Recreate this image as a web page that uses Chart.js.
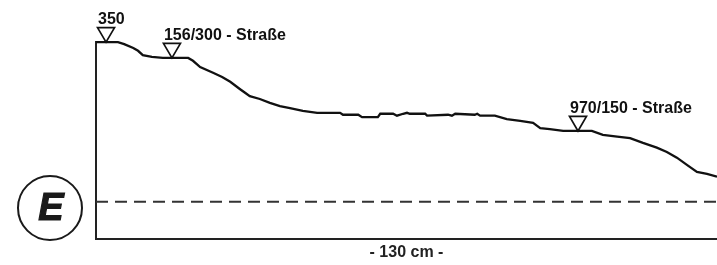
<!DOCTYPE html>
<html>
<head>
<meta charset="utf-8">
<script src="https://cdn.jsdelivr.net/npm/chart.js@4"></script>
<style>
	body { margin: 0; background: #fff; }
</style>
</head>
<body>
<canvas id="profielChart" width="717" height="265"></canvas>
<script>
// data van het profiel (x = afstand in cm, y = hoogte in cm)
const afstand = [0, 4.6, 5.9, 7.8, 8.8, 9.8, 11.7, 14.0, 19.3, 20.3, 21.8, 24.5, 26.4, 28.1, 30.1, 31.2, 32.2, 34.3, 36.4, 38.5, 40.6, 43.3, 46.3, 51.1, 51.7, 54.9, 55.7, 59.0, 59.5, 62.2, 63.0, 64.3, 65.1, 65.7, 68.9, 69.3, 73.7, 74.5, 75.2, 79.3, 79.8, 80.4, 83.5, 86.0, 88.8, 91.5, 93.0, 95.0, 97.8, 100.7, 103.8, 106.1, 109.1, 111.8, 114.5, 117.4, 119.5, 121.6, 123.7, 125.8, 127.9, 130];
const hoogte = [41.2, 41.2, 40.8, 40.0, 39.4, 38.5, 38.1, 37.9, 37.9, 37.3, 36.0, 34.8, 33.9, 32.9, 31.4, 30.6, 29.9, 29.3, 28.5, 27.8, 27.4, 26.8, 26.4, 26.4, 26.0, 26.0, 25.5, 25.5, 26.2, 26.2, 25.8, 26.2, 26.4, 26.2, 26.2, 25.8, 26.0, 25.8, 26.2, 26.0, 26.2, 25.8, 25.8, 25.1, 24.7, 24.3, 23.2, 23.0, 22.6, 22.6, 22.6, 21.8, 21.4, 21.1, 20.1, 19.1, 18.2, 17.0, 15.5, 14.0, 13.6, 13.0];

// gestreepte lijn (waterpeil)
const peilX = [0, 130];
const peilY = [7.75, 7.75];

// markeringen met driehoek en tekst
const markX = [2.1, 15.9, 100.9];
const markY = [41.2, 37.9, 22.6];
const markLabels = ['350', '156/300 - Straße', '970/150 - Straße'];

const asTitel = '- 130 cm -';
const letter = 'E';

// plugin: driehoekjes + labels op de lijn
const markeringen = {
	id: 'markeringen',
	afterDatasetsDraw(chart) {
		const ctx = chart.ctx;
		const sx = chart.scales.x;
		const sy = chart.scales.y;
		ctx.save();
		for (let i = 0; i < markX.length; i++) {
			const px = sx.getPixelForValue(markX[i]);
			const py = sy.getPixelForValue(markY[i]);
			ctx.beginPath();
			ctx.moveTo(px, py);
			ctx.lineTo(px - 8.5, py - 14.5);
			ctx.lineTo(px + 8.5, py - 14.5);
			ctx.closePath();
			ctx.fillStyle = '#fff';
			ctx.fill();
			ctx.lineWidth = 1.7;
			ctx.strokeStyle = '#111';
			ctx.stroke();
			ctx.fillStyle = '#111';
			ctx.font = 'bold 16px "Liberation Sans", Arial, sans-serif';
			ctx.textAlign = 'left';
			ctx.textBaseline = 'alphabetic';
			ctx.fillText(markLabels[i], px - 8, py - 18);
		}
		ctx.restore();
	}
};

// plugin: omcirkelde letter links
const cirkelLetter = {
	id: 'cirkelLetter',
	afterDraw(chart) {
		const ctx = chart.ctx;
		ctx.save();
		ctx.beginPath();
		ctx.arc(50, 208, 32, 0, Math.PI * 2);
		ctx.lineWidth = 2;
		ctx.strokeStyle = '#1a1a1a';
		ctx.stroke();
		ctx.fillStyle = '#1a1a1a';
		ctx.font = 'italic bold 38px "Liberation Sans", Arial, sans-serif';
		ctx.textAlign = 'center';
		ctx.textBaseline = 'middle';
		ctx.fillText(letter, 51, 210);
		ctx.lineWidth = 1.2;
		ctx.strokeText(letter, 51, 210); // iets dikker, zoals het origineel
		ctx.restore();
	}
};

const profielCanvas = document.getElementById('profielChart');
const configProfiel = {
	type: 'line',
	data: {
		datasets: [{
			label: 'Profiel',
			data: afstand.map((x, i) => ({x: x, y: hoogte[i]})),
			borderColor: '#111',
			borderWidth: 2.3,
			pointRadius: 0,
			tension: 0,
			clip: false
		}, {
			label: 'Peil',
			data: peilX.map((x, i) => ({x: x, y: peilY[i]})),
			borderColor: '#333',
			borderWidth: 2,
			borderDash: [12, 7],
			pointRadius: 0,
			clip: false
		}]
	},
	options: {
		responsive: false,
		animation: false,
		layout: {
			padding: {left: 96, top: 42, right: 0, bottom: 0}
		},
		plugins: {
			legend: { display: false },
			tooltip: { enabled: false }
		},
		scales: {
			x: {
				type: 'linear',
				min: 0,
				max: 130,
				grid: { display: false, drawTicks: false },
				border: { display: true, color: '#222', width: 2 },
				ticks: { display: false },
				title: {
					display: true,
					text: asTitel,
					color: '#222',
					font: { family: '"Liberation Sans", Arial, sans-serif', size: 16, weight: 'bold' },
					padding: { top: 4, bottom: 3 }
				}
			},
			y: {
				type: 'linear',
				min: 0,
				max: 41.24,
				grid: { display: false, drawTicks: false },
				border: { display: true, color: '#222', width: 2 },
				ticks: { display: false }
			}
		}
	},
	plugins: [markeringen, cirkelLetter]
};
new Chart(profielCanvas, configProfiel);
</script>
</body>
</html>
